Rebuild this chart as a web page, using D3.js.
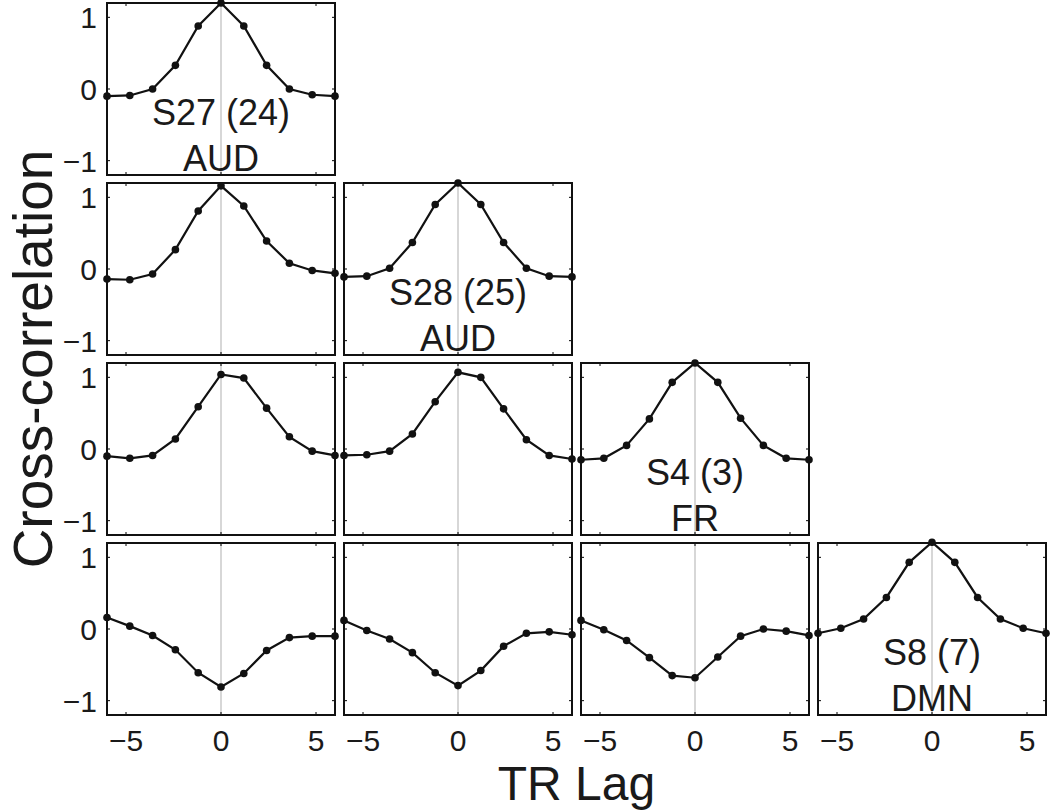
<!DOCTYPE html>
<html>
<head>
<meta charset="utf-8">
<script src="https://cdn.jsdelivr.net/npm/d3@7"></script>
<style>
  body { margin: 0; background: #fff; }
  svg { display: block; font-family: "Liberation Sans", Arial, sans-serif; }
</style>
</head>
<body>
<div class="canvas"></div>
<script>
// lag positions of the points (11 samples across the panel)
const lags = [-6, -4.8, -3.6, -2.4, -1.2, 0, 1.2, 2.4, 3.6, 4.8, 6];
const xTicks = [-5, 0, 5];
const yTicks = [-1, 0, 1];

// panel values, row / col in the lower triangle
const panelRows = [0, 1, 1, 2, 2, 2, 3, 3, 3, 3];
const panelCols = [0, 0, 1, 0, 1, 2, 0, 1, 2, 3];
const panelLabels = [
  ["S27 (24)", "AUD"], null, ["S28 (25)", "AUD"],
  null, null, ["S4 (3)", "FR"],
  null, null, null, ["S8 (7)", "DMN"]
];
const panelValues = [
  [-0.10, -0.09, 0.00, 0.33, 0.88, 1.20, 0.88, 0.33, 0.00, -0.08, -0.10],
  [-0.14, -0.15, -0.07, 0.27, 0.81, 1.16, 0.88, 0.39, 0.08, -0.02, -0.06],
  [-0.11, -0.10, 0.01, 0.37, 0.90, 1.20, 0.90, 0.37, 0.01, -0.10, -0.11],
  [-0.10, -0.13, -0.09, 0.14, 0.59, 1.04, 0.99, 0.57, 0.17, -0.03, -0.09],
  [-0.09, -0.08, -0.03, 0.21, 0.66, 1.07, 1.00, 0.56, 0.13, -0.09, -0.14],
  [-0.15, -0.13, 0.05, 0.42, 0.93, 1.20, 0.93, 0.43, 0.05, -0.13, -0.15],
  [0.16, 0.04, -0.09, -0.29, -0.61, -0.81, -0.62, -0.30, -0.12, -0.10, -0.10],
  [0.12, -0.02, -0.14, -0.33, -0.61, -0.79, -0.58, -0.24, -0.06, -0.04, -0.08],
  [0.12, -0.01, -0.16, -0.40, -0.65, -0.68, -0.39, -0.10, 0.00, -0.03, -0.09],
  [-0.06, 0.01, 0.14, 0.44, 0.93, 1.21, 0.93, 0.44, 0.14, 0.01, -0.06]
];

const width = 1050, height = 810;
const svg = d3.select('.canvas')
  .append('svg')
  .attr('width', width)
  .attr('height', height);

// panel grid geometry
const gridLeft = 107, gridTop = 3;
const pw = 228, ph = 172;
const colStep = 237, rowStep = 180;

const x = d3.scaleLinear().domain([-6, 6]).range([0, pw]);
const y = d3.scaleLinear().domain([-1.2, 1.2]).range([ph, 0]);

const line = d3.line()
  .x((d, i) => x(lags[i]))
  .y(d => y(d));

panelValues.forEach((vals, p) => {
  const r = panelRows[p], c = panelCols[p];
  const g = svg.append('g')
    .attr('transform', `translate(${gridLeft + c * colStep}, ${gridTop + r * rowStep})`);

  // zero lag reference
  g.append('line')
    .attr('x1', x(0)).attr('x2', x(0))
    .attr('y1', 0).attr('y2', ph)
    .attr('stroke', '#bdbdbd')
    .attr('stroke-width', 1.2);

  // small inner ticks like matlab boxes
  xTicks.forEach(t => {
    g.append('line').attr('x1', x(t)).attr('x2', x(t)).attr('y1', ph).attr('y2', ph - 3)
      .attr('stroke', '#000').attr('stroke-width', 1);
    g.append('line').attr('x1', x(t)).attr('x2', x(t)).attr('y1', 0).attr('y2', 3)
      .attr('stroke', '#000').attr('stroke-width', 1);
  });
  yTicks.forEach(t => {
    g.append('line').attr('x1', 0).attr('x2', 3).attr('y1', y(t)).attr('y2', y(t))
      .attr('stroke', '#000').attr('stroke-width', 1);
    g.append('line').attr('x1', pw).attr('x2', pw - 3).attr('y1', y(t)).attr('y2', y(t))
      .attr('stroke', '#000').attr('stroke-width', 1);
  });

  // label text sits behind the curve
  if (panelLabels[p]) {
    g.append('text')
      .attr('x', x(0)).attr('y', y(-0.5))
      .attr('text-anchor', 'middle')
      .attr('font-size', '36px')
      .attr('fill', '#1a1a1a')
      .text(panelLabels[p][0]);
    g.append('text')
      .attr('x', x(0)).attr('y', y(-1.15))
      .attr('text-anchor', 'middle')
      .attr('font-size', '36px')
      .attr('fill', '#1a1a1a')
      .text(panelLabels[p][1]);
  }

  g.append('path')
    .datum(vals)
    .attr('d', line)
    .attr('fill', 'none')
    .attr('stroke', '#111')
    .attr('stroke-width', 2.2);

  g.selectAll('circle')
    .data(vals)
    .enter()
    .append('circle')
    .attr('cx', (d, i) => x(lags[i]))
    .attr('cy', d => y(d))
    .attr('r', 3.8)
    .attr('fill', '#111');

  g.append('rect')
    .attr('width', pw).attr('height', ph)
    .attr('fill', 'none')
    .attr('stroke', '#111')
    .attr('stroke-width', 2);

  // tick labels on outer panels only
  if (c === 0) {
    g.selectAll('.ylab')
      .data(yTicks)
      .enter()
      .append('text')
      .attr('x', -10)
      .attr('y', d => y(d) + 11)
      .attr('text-anchor', 'end')
      .attr('font-size', '30px')
      .attr('fill', '#1a1a1a')
      .text(d => d < 0 ? '\u2212' + Math.abs(d) : d);
  }
  if (r === 3) {
    g.selectAll('.xlab')
      .data(xTicks)
      .enter()
      .append('text')
      .attr('x', d => x(d))
      .attr('y', ph + 36)
      .attr('text-anchor', 'middle')
      .attr('font-size', '30px')
      .attr('fill', '#1a1a1a')
      .text(d => d < 0 ? '\u2212' + Math.abs(d) : d);
  }
});

// axis titles
svg.append('text')
  .attr('transform', `translate(52, ${gridTop + (3 * rowStep + ph) / 2}) rotate(-90)`)
  .attr('text-anchor', 'middle')
  .attr('font-size', '55px')
  .attr('fill', '#1a1a1a')
  .text('Cross-correlation');

svg.append('text')
  .attr('x', gridLeft + (3 * colStep + pw) / 2)
  .attr('y', 800)
  .attr('text-anchor', 'middle')
  .attr('font-size', '48px')
  .attr('fill', '#1a1a1a')
  .text('TR Lag');
</script>
</body>
</html>
